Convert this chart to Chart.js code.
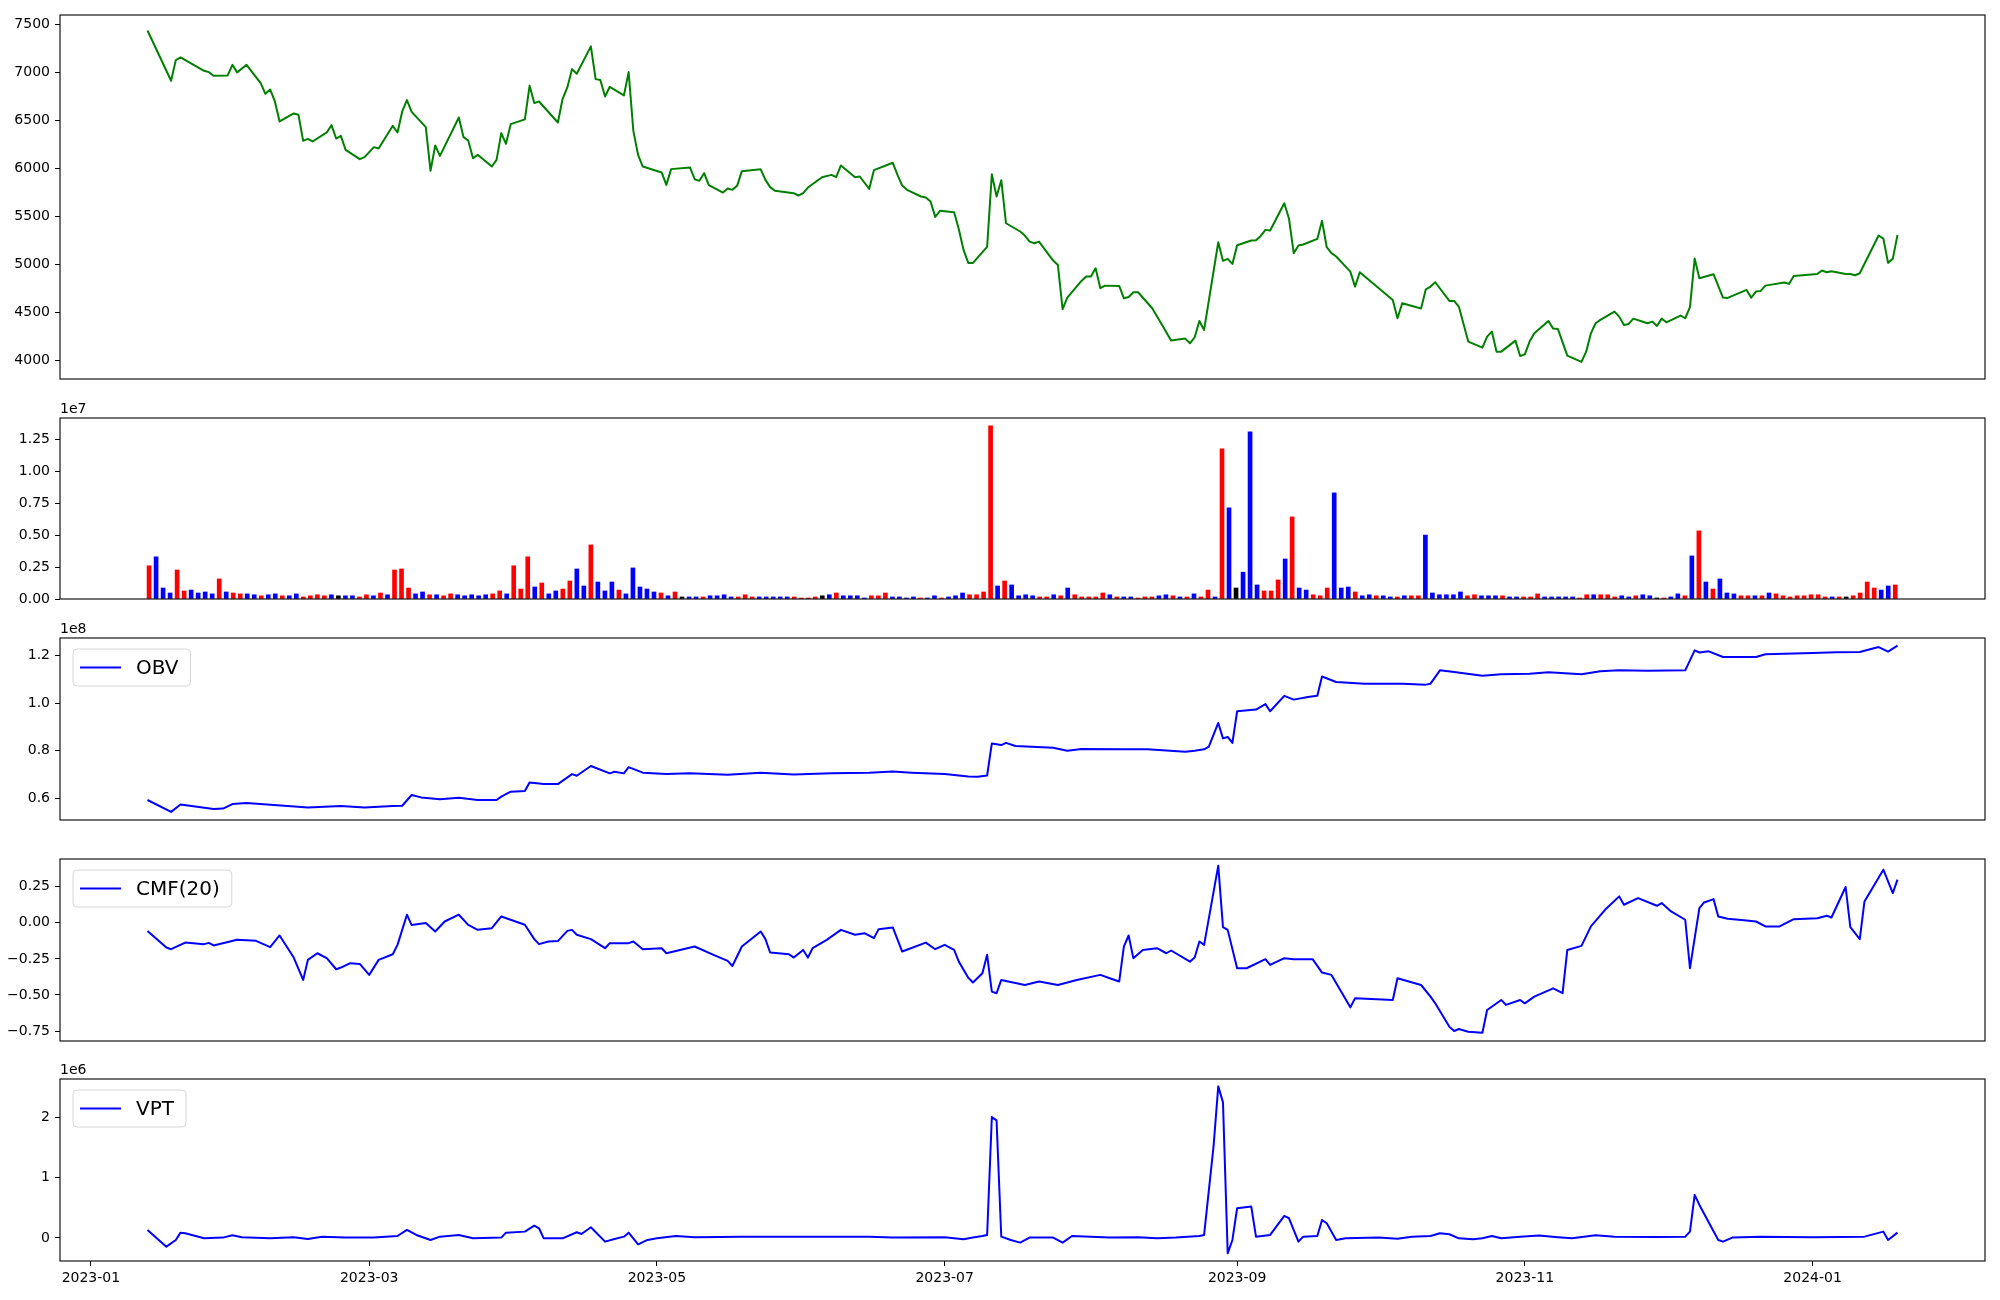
<!DOCTYPE html>
<html><head><meta charset="utf-8">
<script src="https://cdn.jsdelivr.net/npm/chart.js@4.4.0/dist/chart.umd.min.js"></script>
<style>
html,body{margin:0;padding:0;background:#fff;width:2000px;height:1300px;overflow:hidden}
canvas{position:absolute;left:0}
</style></head><body>
<canvas id="cPrice" width="2000" height="395" style="top:0px"></canvas>
<canvas id="cVol" width="2000" height="220" style="top:395px"></canvas>
<canvas id="cObv" width="2000" height="220" style="top:615px"></canvas>
<canvas id="cCmf" width="2000" height="220" style="top:835px"></canvas>
<canvas id="cVpt" width="2000" height="245" style="top:1055px"></canvas>
<script>
// x values are day offsets from 2023-01-01
const monthTickDays = [0, 59, 120, 181, 243, 304, 365];
const monthTickLabels = ['2023-01','2023-03','2023-05','2023-07','2023-09','2023-11','2024-01'];

const priceDays = [12,17,18,19,24,25,26,29,30,31,33,36,37,38,39,40,43,44,45,46,47,50,51,52,53,54,57,58,60,61,64,65,66,67,68,71,72,73,74,78,79,80,81,82,85,86,87,88,89,92,93,94,95,99,100,101,102,103,106,107,108,109,110,113,114,115,116,117,121,122,123,127,128,129,130,131,134,135,136,137,138,142,143,144,145,149,150,151,152,155,157,158,159,162,163,165,166,170,171,172,173,176,177,178,179,180,183,184,185,186,187,190,191,192,193,194,197,198,199,200,201,204,205,206,207,210,211,212,213,214,215,218,219,220,221,222,225,227,229,232,233,234,235,236,239,240,241,242,243,246,247,248,249,250,253,254,255,256,257,260,261,262,263,264,267,268,269,276,277,278,282,283,284,285,288,289,290,292,295,296,297,298,299,302,303,304,305,306,309,310,311,313,316,317,318,319,320,323,324,325,326,327,330,331,332,333,334,337,338,339,340,341,344,346,347,351,352,353,354,355,359,360,361,366,367,368,369,372,373,374,375,379,380,381,382,383];
const priceClose = [7437,6913,7128,7156,7017,7003,6965,6968,7079,7000,7079,6888,6777,6822,6697,6489,6572,6558,6287,6308,6280,6374,6450,6311,6339,6193,6096,6117,6221,6207,6443,6374,6593,6711,6589,6429,5974,6238,6130,6530,6325,6290,6106,6141,6019,6089,6367,6256,6461,6510,6860,6680,6697,6478,6725,6843,7034,6986,7271,6930,6920,6749,6850,6760,7003,6391,6141,6019,5957,5828,5992,6009,5887,5870,5950,5825,5748,5790,5776,5818,5971,5990,5880,5804,5766,5741,5717,5741,5800,5908,5932,5908,6030,5908,5915,5786,5981,6058,5932,5821,5776,5707,5696,5654,5494,5557,5543,5366,5150,5015,5015,5182,5939,5707,5877,5428,5342,5300,5237,5220,5237,5039,4994,4532,4653,4827,4872,4872,4959,4751,4778,4775,4646,4660,4709,4709,4542,4375,4205,4226,4177,4240,4410,4316,5230,5036,5057,5004,5199,5248,5251,5296,5359,5352,5637,5474,5116,5196,5206,5265,5453,5178,5116,5081,4924,4768,4918,4629,4438,4594,4539,4740,4768,4813,4619,4619,4560,4195,4132,4247,4299,4090,4090,4205,4045,4062,4195,4281,4410,4330,4327,4049,3983,4090,4281,4386,4421,4507,4455,4368,4379,4434,4386,4403,4358,4434,4396,4466,4438,4553,5060,4855,4897,4653,4650,4733,4653,4716,4723,4778,4810,4796,4879,4900,4935,4917,4928,4900,4900,4886,4907,5300,5269,5015,5057,5307];

// volume per trading session (index order); direction: 1 up (red), -1 down (blue), 0 unchanged (black)
const volume = [2.6e6,3.3e6,0.86e6,0.47e6,2.27e6,0.63e6,0.7e6,0.47e6,0.55e6,0.4e6,
1.57e6,0.55e6,0.47e6,0.4e6,0.4e6,0.33e6,0.25e6,0.33e6,0.4e6,0.25e6,
0.25e6,0.4e6,0.16e6,0.25e6,0.33e6,0.25e6,0.33e6,0.25e6,0.25e6,0.25e6,
0.16e6,0.33e6,0.25e6,0.47e6,0.33e6,2.27e6,2.35e6,0.86e6,0.4e6,0.55e6,
0.33e6,0.33e6,0.25e6,0.4e6,0.33e6,0.25e6,0.33e6,0.25e6,0.33e6,0.4e6,
0.63e6,0.4e6,2.6e6,0.78e6,3.3e6,0.94e6,1.25e6,0.4e6,0.63e6,0.78e6,
1.41e6,2.35e6,1.02e6,4.23e6,1.33e6,0.63e6,1.33e6,0.7e6,0.4e6,2.43e6,
0.94e6,0.78e6,0.55e6,0.47e6,0.25e6,0.55e6,0.16e6,0.16e6,0.16e6,0.16e6,
0.25e6,0.25e6,0.33e6,0.16e6,0.16e6,0.33e6,0.16e6,0.16e6,0.16e6,0.16e6,
0.16e6,0.16e6,0.16e6,0.08e6,0.08e6,0.16e6,0.25e6,0.33e6,0.47e6,0.25e6,
0.25e6,0.25e6,0.08e6,0.25e6,0.25e6,0.47e6,0.16e6,0.16e6,0.08e6,0.16e6,
0.08e6,0.08e6,0.25e6,0.08e6,0.16e6,0.25e6,0.47e6,0.33e6,0.33e6,0.55e6,
13.55e6,1.02e6,1.41e6,1.1e6,0.25e6,0.33e6,0.25e6,0.16e6,0.16e6,0.33e6,
0.25e6,0.86e6,0.33e6,0.16e6,0.16e6,0.16e6,0.47e6,0.33e6,0.16e6,0.16e6,
0.16e6,0.08e6,0.16e6,0.16e6,0.25e6,0.33e6,0.25e6,0.16e6,0.16e6,0.4e6,
0.16e6,0.7e6,0.16e6,11.75e6,7.13e6,0.86e6,2.1e6,13.08e6,1.1e6,0.63e6,
0.63e6,1.49e6,3.13e6,6.42e6,0.86e6,0.7e6,0.33e6,0.25e6,0.86e6,8.3e6,
0.86e6,0.94e6,0.55e6,0.25e6,0.33e6,0.25e6,0.25e6,0.16e6,0.16e6,0.25e6,
0.25e6,0.25e6,5.0e6,0.47e6,0.33e6,0.33e6,0.33e6,0.55e6,0.25e6,0.33e6,
0.25e6,0.25e6,0.25e6,0.25e6,0.16e6,0.16e6,0.16e6,0.16e6,0.4e6,0.16e6,
0.16e6,0.16e6,0.16e6,0.16e6,0.08e6,0.33e6,0.33e6,0.33e6,0.33e6,0.16e6,
0.25e6,0.16e6,0.25e6,0.33e6,0.25e6,0.08e6,0.08e6,0.16e6,0.4e6,0.25e6,
3.37e6,5.33e6,1.33e6,0.78e6,1.57e6,0.47e6,0.4e6,0.25e6,0.25e6,0.25e6,
0.25e6,0.47e6,0.4e6,0.25e6,0.16e6,0.25e6,0.25e6,0.33e6,0.33e6,0.16e6,
0.16e6,0.16e6,0.16e6,0.25e6,0.47e6,1.33e6,0.86e6,0.7e6,1.02e6,1.1e6];
const volumeDirection = [1,-1,-1,-1,1,1,-1,-1,-1,-1,
1,-1,1,1,-1,-1,1,-1,-1,1,
-1,-1,1,1,1,1,-1,0,-1,-1,
1,1,-1,1,-1,1,1,1,-1,-1,
1,-1,1,1,-1,-1,-1,-1,-1,1,
1,-1,1,1,1,-1,1,-1,-1,1,
1,-1,-1,1,-1,-1,-1,1,-1,-1,
-1,-1,-1,1,-1,1,0,-1,-1,1,
-1,-1,-1,-1,1,1,1,-1,-1,-1,
-1,-1,1,1,1,1,0,-1,1,-1,
-1,-1,-1,1,1,1,-1,-1,-1,-1,
1,-1,-1,1,-1,-1,-1,1,1,1,
1,-1,1,-1,-1,-1,-1,1,1,-1,
1,-1,1,1,1,1,1,-1,1,-1,
-1,1,1,1,-1,-1,1,-1,1,-1,
1,1,-1,1,-1,0,-1,-1,-1,1,
1,1,-1,1,-1,-1,1,1,1,-1,
-1,-1,1,-1,-1,1,-1,-1,1,-1,
1,1,-1,-1,-1,-1,-1,-1,1,1,
-1,-1,-1,1,-1,-1,1,1,1,-1,
-1,-1,-1,-1,1,1,-1,1,1,1,
-1,-1,1,-1,-1,0,1,-1,-1,1,
-1,1,-1,1,-1,-1,-1,1,1,-1,
1,-1,1,1,1,1,1,1,1,1,
-1,1,0,1,1,1,1,-1,-1,1];

const obvDays = [12,17,19,26,28,30,33,46,53,58,64,66,68,70,74,78,82,86,87,89,92,93,96,99,102,103,106,110,111,113,114,117,122,127,135,142,149,157,165,170,174,181,186,188,190,191,193,194,196,204,207,210,219,224,232,234,236,237,239,240,241,242,243,247,249,250,253,255,258,260,261,264,270,278,283,284,286,289,295,299,305,309,316,320,324,330,338,340,341,343,346,353,355,365,370,375,379,381,383];
const obv = [0.593e8,0.543e8,0.574e8,0.555e8,0.557e8,0.576e8,0.580e8,0.562e8,0.568e8,0.562e8,0.568e8,0.569e8,0.614e8,0.604e8,0.596e8,0.603e8,0.593e8,0.593e8,0.607e8,0.628e8,0.631e8,0.667e8,0.660e8,0.660e8,0.702e8,0.695e8,0.736e8,0.705e8,0.712e8,0.705e8,0.731e8,0.708e8,0.702e8,0.705e8,0.699e8,0.708e8,0.700e8,0.705e8,0.708e8,0.713e8,0.708e8,0.702e8,0.692e8,0.691e8,0.696e8,0.831e8,0.824e8,0.833e8,0.820e8,0.813e8,0.800e8,0.807e8,0.806e8,0.806e8,0.796e8,0.800e8,0.806e8,0.817e8,0.917e8,0.852e8,0.858e8,0.833e8,0.966e8,0.973e8,0.996e8,0.966e8,1.031e8,1.015e8,1.026e8,1.031e8,1.112e8,1.089e8,1.082e8,1.082e8,1.078e8,1.082e8,1.138e8,1.131e8,1.115e8,1.122e8,1.124e8,1.130e8,1.122e8,1.134e8,1.138e8,1.136e8,1.138e8,1.222e8,1.213e8,1.218e8,1.194e8,1.194e8,1.206e8,1.211e8,1.214e8,1.215e8,1.236e8,1.217e8,1.242e8];

const cmfDays = [12,16,17,20,24,25,26,31,35,38,40,43,45,46,48,50,52,53,55,57,59,61,64,65,67,68,71,73,75,78,80,82,85,87,92,94,95,97,99,101,102,103,106,109,110,114,115,117,121,122,128,132,135,136,138,142,143,144,148,149,151,152,153,156,159,162,164,166,167,170,172,177,179,181,183,184,186,187,189,190,191,192,193,198,201,205,209,214,216,218,219,220,221,223,226,228,229,233,234,235,236,239,240,241,243,245,249,250,253,255,259,261,263,267,268,276,277,282,284,285,288,289,290,292,295,296,299,300,303,304,306,310,312,313,316,318,321,324,325,328,332,333,335,338,339,341,342,344,345,347,351,353,355,358,361,366,368,369,372,373,375,376,380,382,383];
const cmf20 = [-0.056,-0.171,-0.183,-0.137,-0.148,-0.139,-0.157,-0.118,-0.125,-0.169,-0.088,-0.241,-0.396,-0.257,-0.211,-0.245,-0.322,-0.310,-0.280,-0.285,-0.361,-0.257,-0.218,-0.153,0.056,-0.016,-0.002,-0.060,0.009,0.056,-0.014,-0.049,-0.037,0.044,-0.014,-0.113,-0.148,-0.130,-0.127,-0.056,-0.049,-0.083,-0.113,-0.176,-0.141,-0.141,-0.130,-0.183,-0.176,-0.211,-0.164,-0.222,-0.264,-0.299,-0.164,-0.060,-0.113,-0.206,-0.218,-0.241,-0.188,-0.241,-0.176,-0.118,-0.049,-0.083,-0.072,-0.106,-0.044,-0.032,-0.199,-0.137,-0.183,-0.153,-0.188,-0.269,-0.380,-0.414,-0.350,-0.222,-0.477,-0.488,-0.396,-0.431,-0.407,-0.431,-0.396,-0.361,-0.384,-0.407,-0.164,-0.088,-0.245,-0.188,-0.176,-0.211,-0.192,-0.269,-0.241,-0.130,-0.153,0.396,-0.030,-0.049,-0.315,-0.315,-0.252,-0.292,-0.245,-0.252,-0.252,-0.345,-0.361,-0.586,-0.523,-0.535,-0.384,-0.431,-0.512,-0.558,-0.720,-0.750,-0.736,-0.755,-0.762,-0.604,-0.535,-0.569,-0.535,-0.558,-0.512,-0.454,-0.488,-0.188,-0.160,-0.025,0.090,0.183,0.125,0.171,0.118,0.137,0.079,0.021,-0.315,0.102,0.141,0.164,0.044,0.028,0.016,0.009,-0.025,-0.025,0.025,0.032,0.049,0.037,0.248,-0.030,-0.113,0.148,0.368,0.206,0.299];

const vptDays = [12,16,18,19,20,24,28,30,32,38,43,46,49,54,60,65,67,69,72,74,78,81,87,88,92,94,95,96,100,103,104,106,109,111,113,114,116,118,120,124,128,138,149,165,170,181,185,187,189,190,191,192,193,195,197,199,204,206,208,212,216,222,226,230,235,236,238,239,240,241,242,243,246,247,250,253,254,256,257,260,261,262,264,266,273,277,280,284,286,288,290,293,295,297,299,303,307,311,314,319,323,332,338,339,340,341,345,346,348,354,365,376,380,381,383];
const vpt = [0.133e6,-0.144e6,-0.033e6,0.088e6,0.077e6,-0.006e6,0.006e6,0.044e6,0.011e6,-0.006e6,0.011e6,-0.017e6,0.022e6,0.006e6,0.006e6,0.033e6,0.133e6,0.050e6,-0.033e6,0.022e6,0.050e6,-0.006e6,0.006e6,0.088e6,0.105e6,0.204e6,0.160e6,-0.006e6,-0.006e6,0.094e6,0.066e6,0.177e6,-0.061e6,-0.017e6,0.022e6,0.088e6,-0.105e6,-0.033e6,-0.006e6,0.033e6,0.011e6,0.022e6,0.022e6,0.022e6,0.006e6,0.011e6,-0.022e6,0.006e6,0.033e6,0.050e6,2.000e6,1.945e6,0.022e6,-0.033e6,-0.077e6,0.006e6,0.006e6,-0.077e6,0.033e6,0.022e6,0.006e6,0.011e6,-0.006e6,0.006e6,0.033e6,0.050e6,1.514e6,2.508e6,2.243e6,-0.254e6,-0.033e6,0.492e6,0.519e6,0.022e6,0.050e6,0.365e6,0.326e6,-0.061e6,0.022e6,0.033e6,0.298e6,0.243e6,-0.033e6,-0.006e6,0.006e6,-0.011e6,0.022e6,0.033e6,0.077e6,0.061e6,-0.006e6,-0.022e6,-0.006e6,0.033e6,-0.006e6,0.022e6,0.039e6,0.011e6,-0.006e6,0.044e6,0.022e6,0.017e6,0.022e6,0.105e6,0.713e6,0.547e6,-0.033e6,-0.061e6,0.006e6,0.022e6,0.011e6,0.022e6,0.105e6,-0.033e6,0.088e6];

const priceTicks = [4000,4500,5000,5500,6000,6500,7000,7500];
const volumeTicks = [0, 0.25e7, 0.5e7, 0.75e7, 1.0e7, 1.25e7];
const obvTicks = [0.6e8, 0.8e8, 1.0e8, 1.2e8];
const cmfTicks = [-0.75, -0.5, -0.25, 0, 0.25];
const vptTicks = [0, 1e6, 2e6];

Chart.defaults.font.family = '"DejaVu Sans", sans-serif';
Chart.defaults.font.size = 14;
Chart.defaults.color = '#000';

const X_MIN = -6.55, X_MAX = 401.55;

const deco = {
  id: 'deco',
  afterDraw(chart, args, opts) {
    const ctx = chart.ctx, a = chart.chartArea;
    ctx.save();
    ctx.strokeStyle = '#000'; ctx.lineWidth = 1.1;
    ctx.strokeRect(a.left, a.top, a.right - a.left, a.bottom - a.top);
    if (opts.offset) {
      ctx.fillStyle = '#000'; ctx.font = '14px "DejaVu Sans"';
      ctx.textAlign = 'left'; ctx.textBaseline = 'alphabetic';
      ctx.fillText(opts.offset, a.left, a.top - 5);
    }
    if (opts.legend) {
      const ds = chart.data.datasets[0];
      ctx.font = '20px "DejaVu Sans"';
      const tw = ctx.measureText(ds.label).width;
      const bx = a.left + 13, by = a.top + 11, bw = 75 + tw, bh = 37, r = 4;
      ctx.beginPath();
      ctx.moveTo(bx + r, by); ctx.lineTo(bx + bw - r, by); ctx.quadraticCurveTo(bx + bw, by, bx + bw, by + r);
      ctx.lineTo(bx + bw, by + bh - r); ctx.quadraticCurveTo(bx + bw, by + bh, bx + bw - r, by + bh);
      ctx.lineTo(bx + r, by + bh); ctx.quadraticCurveTo(bx, by + bh, bx, by + bh - r);
      ctx.lineTo(bx, by + r); ctx.quadraticCurveTo(bx, by, bx + r, by); ctx.closePath();
      ctx.fillStyle = 'rgba(255,255,255,0.8)'; ctx.fill();
      ctx.strokeStyle = '#d6d6d6'; ctx.lineWidth = 1; ctx.stroke();
      ctx.beginPath(); ctx.strokeStyle = ds.borderColor; ctx.lineWidth = 2;
      ctx.moveTo(bx + 7, by + bh / 2); ctx.lineTo(bx + 48, by + bh / 2); ctx.stroke();
      ctx.fillStyle = '#000'; ctx.textAlign = 'left'; ctx.textBaseline = 'middle';
      ctx.fillText(ds.label, bx + 63, by + bh / 2 + 1);
    }
    ctx.restore();
  }
};

function yAxis(min, max, ticks, fmt) {
  return {
    type: 'linear', min, max,
    afterFit: s => { s.width = 60; },
    afterBuildTicks: s => { s.ticks = ticks.map(v => ({ value: v })); },
    ticks: { callback: fmt, padding: 5, autoSkip: false, font: { size: 14 }, color: '#000' },
    grid: { display: true, drawOnChartArea: false, drawTicks: true, tickLength: 5, color: '#000', lineWidth: 1 },
    border: { display: false }
  };
}
function xHidden(min, max) { return { type: 'linear', min, max, display: false, offset: false }; }
const xDates = {
  type: 'linear', min: X_MIN, max: X_MAX, offset: false,
  afterFit: s => { s.height = 39; },
  afterBuildTicks: s => { s.ticks = monthTickDays.map(v => ({ value: v })); },
  ticks: { autoSkip: false, maxRotation: 0, padding: 4, font: { size: 14 }, color: '#000',
    callback: v => monthTickLabels[monthTickDays.indexOf(v)] },
  grid: { display: true, drawOnChartArea: false, drawTicks: true, tickLength: 5, color: '#000', lineWidth: 1 },
  border: { display: false }
};

function opts(pad, x, y, decoOpts) {
  return {
    responsive: false, devicePixelRatio: 1, animation: false, events: [],
    layout: { padding: { left: 0, right: 15, top: pad[0], bottom: pad[1] } },
    scales: { x, y },
    plugins: { legend: { display: false }, tooltip: { enabled: false }, deco: decoOpts }
  };
}
function lineChart(id, days, vals, color, label, pad, x, y, decoOpts) {
  return new Chart(document.getElementById(id), {
    type: 'line',
    data: { datasets: [{ label, data: days.map((d, i) => ({ x: d, y: vals[i] })), borderColor: color,
      borderWidth: 2, pointRadius: 0, tension: 0, fill: false, borderJoinStyle: 'round' }] },
    options: opts(pad, x, y, decoOpts),
    plugins: [deco]
  });
}

const minus = s => s.replace('-', '\u2212');

lineChart('cPrice', priceDays, priceClose, '#008000', 'Close', [15, 16],
  xHidden(X_MIN, X_MAX), yAxis(3805, 7598, priceTicks, v => String(v)), {});

new Chart(document.getElementById('cVol'), {
  type: 'bar',
  data: { datasets: [{ label: 'Volume',
    data: volume.map((v, i) => ({ x: i, y: v })),
    backgroundColor: volumeDirection.map(d => d > 0 ? '#ff0000' : (d < 0 ? '#0000ff' : '#000000')),
    barThickness: 4, borderWidth: 0 }] },
  options: opts([23, 16], xHidden(-12.7, 261.8), yAxis(0, 1.416e7, volumeTicks, v => (v / 1e7).toFixed(2)), { offset: '1e7' }),
  plugins: [deco]
});

lineChart('cObv', obvDays, obv, '#0000ff', 'OBV', [23, 15],
  xHidden(X_MIN, X_MAX), yAxis(0.509e8, 1.274e8, obvTicks, v => (v / 1e8).toFixed(1)), { offset: '1e8', legend: true });

lineChart('cCmf', cmfDays, cmf20, '#0000ff', 'CMF(20)', [24, 14],
  xHidden(X_MIN, X_MAX), yAxis(-0.819, 0.442, cmfTicks, v => minus(v.toFixed(2))), { legend: true });

lineChart('cVpt', vptDays, vpt, '#0000ff', 'VPT', [24, 0],
  xDates, yAxis(-0.381e6, 2.63e6, vptTicks, v => (v / 1e6).toFixed(0)), { offset: '1e6', legend: true });
</script>
</body></html>
